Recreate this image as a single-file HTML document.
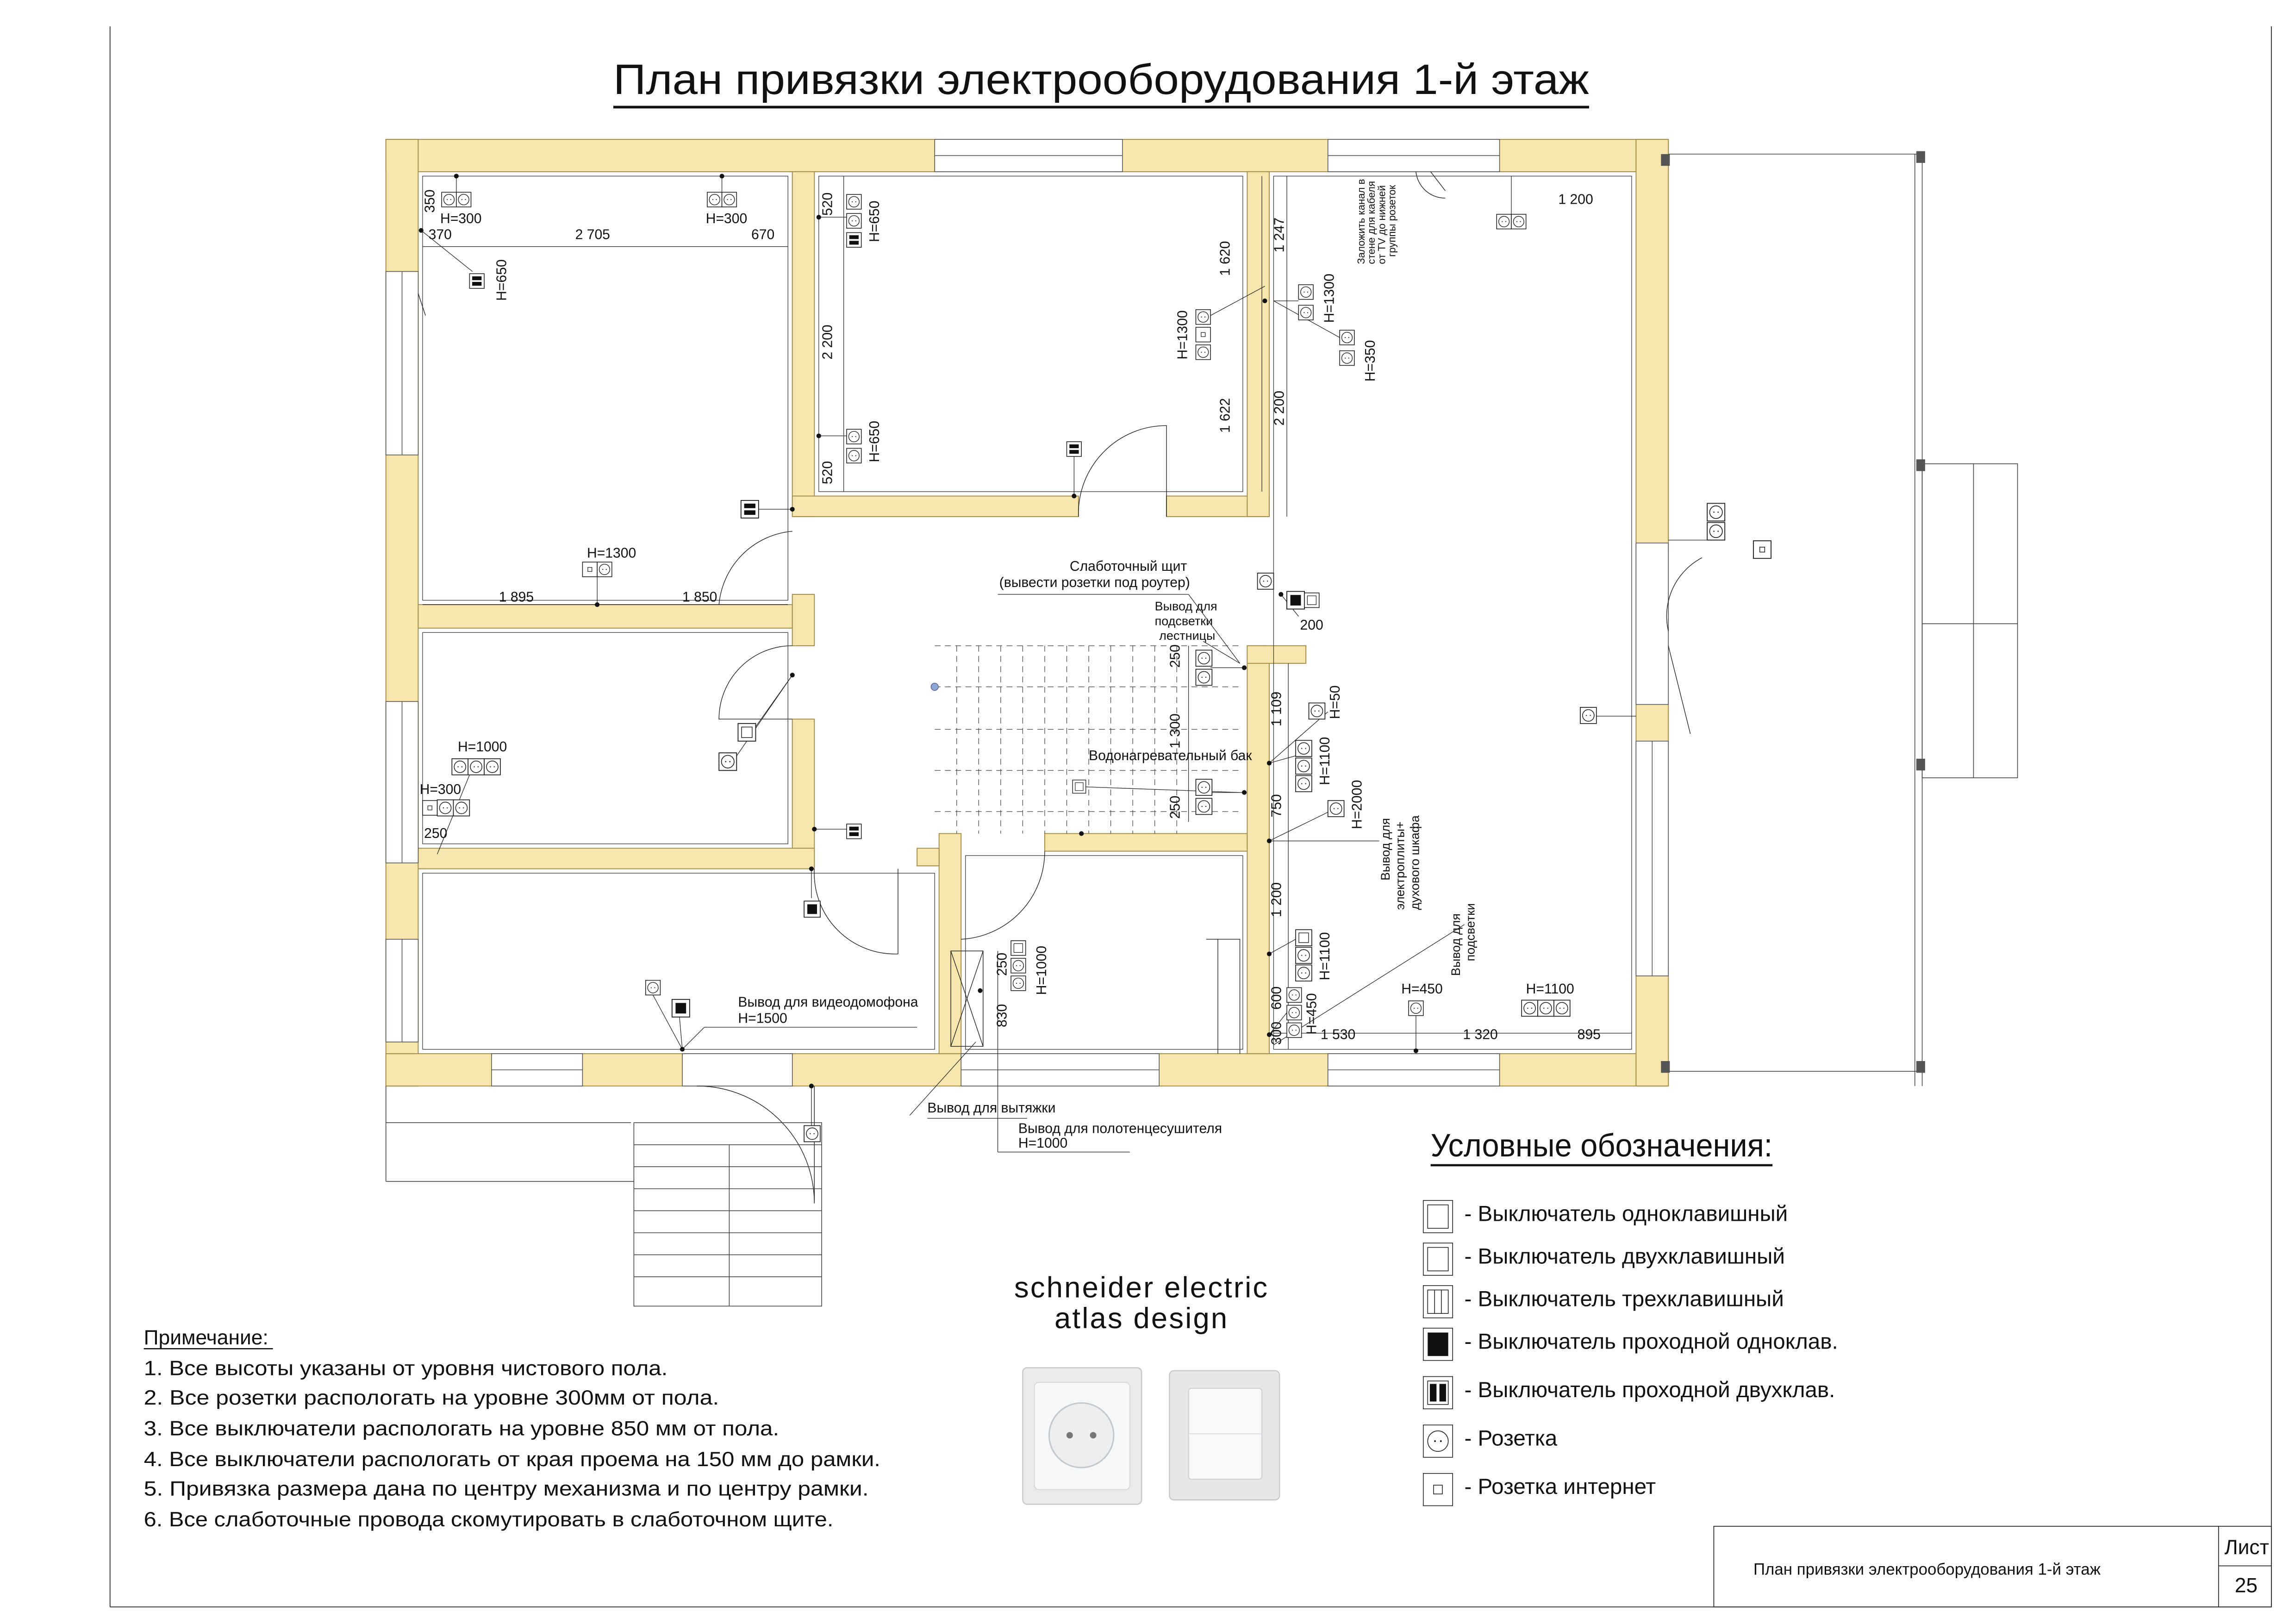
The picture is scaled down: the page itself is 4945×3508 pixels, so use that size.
<!DOCTYPE html>
<html><head><meta charset="utf-8">
<style>
html,body{margin:0;padding:0;background:#fff;}
svg{display:block;}
text{font-family:"Liberation Sans Narrow","Liberation Sans","DejaVu Sans",sans-serif;fill:#111;}
</style></head>
<body>
<svg width="4945" height="3508" viewBox="0 0 1560 1106.6" preserveAspectRatio="none" xmlns="http://www.w3.org/2000/svg">
<defs>
<symbol id="so" viewBox="0 0 10 10" overflow="visible"><rect x="0" y="0" width="10" height="10" fill="#fff" stroke="#222" stroke-width="0.5"/><circle cx="5" cy="5" r="3.6" fill="none" stroke="#222" stroke-width="0.45"/><circle cx="3.8" cy="5" r="0.35" fill="#222"/><circle cx="6.2" cy="5" r="0.35" fill="#222"/></symbol>
<symbol id="s2" viewBox="0 0 10 10" overflow="visible"><rect x="0" y="0" width="10" height="10" fill="#fff" stroke="#222" stroke-width="0.5"/><rect x="1.8" y="1.8" width="6.4" height="2.6" fill="#111"/><rect x="1.8" y="5.6" width="6.4" height="2.6" fill="#111"/></symbol>
<symbol id="s1" viewBox="0 0 10 10" overflow="visible"><rect x="0" y="0" width="10" height="10" fill="#fff" stroke="#222" stroke-width="0.5"/><rect x="2" y="2" width="6" height="6" fill="#111"/></symbol>
<symbol id="sw" viewBox="0 0 10 10" overflow="visible"><rect x="0" y="0" width="10" height="10" fill="#fff" stroke="#222" stroke-width="0.5"/><rect x="2" y="2" width="6" height="6" fill="none" stroke="#222" stroke-width="0.4"/></symbol>
<symbol id="nt" viewBox="0 0 10 10" overflow="visible"><rect x="0" y="0" width="10" height="10" fill="#fff" stroke="#222" stroke-width="0.5"/><rect x="3.6" y="3.6" width="2.8" height="2.8" fill="none" stroke="#222" stroke-width="0.4"/></symbol>
</defs>

<!-- frame -->
<g fill="none" stroke="#333" stroke-width="0.6">
<line x1="75" y1="18" x2="75" y2="1095"/>
<line x1="75" y1="1095" x2="1548" y2="1095"/>
<line x1="1548" y1="18" x2="1548" y2="1095"/>
<rect x="1168" y="1040" width="380" height="55"/>
<line x1="1512" y1="1040" x2="1512" y2="1095"/>
<line x1="1512" y1="1067" x2="1548" y2="1067"/>
</g>
<text x="1195" y="1073" font-size="11">План привязки электрооборудования 1-й этаж</text>
<text x="1516" y="1059" font-size="14">Лист</text>
<text x="1523" y="1085" font-size="14">25</text>

<!-- title -->
<text x="418" y="64" font-size="29" textLength="665" lengthAdjust="spacingAndGlyphs">План привязки электрооборудования 1-й этаж</text>
<line x1="418" y1="73" x2="1083" y2="73" stroke="#111" stroke-width="1.8"/>

<!-- walls -->
<g fill="#f7e7ad" stroke="#a38a48" stroke-width="0.6">
<rect x="263" y="95" width="874" height="22"/>
<rect x="263" y="95" width="22" height="645"/>
<rect x="263" y="718" width="874" height="22"/>
<rect x="1115" y="95" width="22" height="645"/>
<rect x="540" y="117" width="15" height="235"/>
<rect x="540" y="338" width="195" height="14"/>
<rect x="795" y="338" width="70" height="14"/>
<rect x="850" y="117" width="15" height="235"/>
<rect x="285" y="412" width="255" height="16"/>
<rect x="540" y="405" width="15" height="35"/>
<rect x="540" y="490" width="15" height="100"/>
<rect x="285" y="578" width="270" height="14"/>
<rect x="640" y="568" width="15" height="150"/>
<rect x="712" y="568" width="145" height="12"/>
<rect x="850" y="440" width="15" height="278"/>
<rect x="850" y="440" width="40" height="12"/>
<rect x="625" y="578" width="15" height="12"/>
</g>
<g fill="#fff" stroke="#555" stroke-width="0.5">
<rect x="637" y="95" width="128" height="22"/><line x1="637" y1="106" x2="765" y2="106"/>
<rect x="905" y="95" width="117" height="22"/><line x1="905" y1="106" x2="1022" y2="106"/>
<rect x="263" y="185" width="22" height="125"/><line x1="274" y1="185" x2="274" y2="310"/>
<rect x="263" y="478" width="22" height="110"/><line x1="274" y1="478" x2="274" y2="588"/>
<rect x="263" y="640" width="22" height="70"/><line x1="274" y1="640" x2="274" y2="710"/>
<rect x="335" y="718" width="62" height="22"/><line x1="335" y1="729" x2="397" y2="729"/>
<rect x="465" y="718" width="75" height="22"/>
<rect x="655" y="718" width="135" height="22"/><line x1="655" y1="729" x2="790" y2="729"/>
<rect x="905" y="718" width="117" height="22"/><line x1="905" y1="729" x2="1022" y2="729"/>
<rect x="1115" y="370" width="22" height="110"/>
<rect x="1115" y="505" width="22" height="160"/><line x1="1126" y1="505" x2="1126" y2="665"/>
</g>
<g fill="none" stroke="#333" stroke-width="0.4">
<rect x="288" y="120" width="249" height="289"/>
<rect x="558" y="120" width="289" height="215"/>
<rect x="868" y="120" width="244" height="595"/>
<rect x="288" y="431" width="249" height="144"/>
<rect x="288" y="595" width="349" height="120"/>
<rect x="658" y="583" width="189" height="132"/>
</g>
<g fill="none" stroke="#222" stroke-width="0.45">
<path d="M735 352 A60 60 0 0 1 795 290 L795 352"/>
<path d="M540 362 A55 55 0 0 0 490 412"/>
<path d="M540 440 A50 50 0 0 0 490 490 L540 490"/>
<path d="M555 592 A55 55 0 0 0 612 650 L612 592"/>
<path d="M712 580 A60 60 0 0 1 655 640"/>
<path d="M975 117 L985 130"/><path d="M965 117 A20 20 0 0 0 985 135"/>
<path d="M1137 430 A45 45 0 0 1 1160 380"/><path d="M1137 440 L1152 500"/>
<path d="M475 740 A80 80 0 0 1 555 820 L555 740"/>
<path d="M285 200 L290 215"/>
<path d="M822 640 L845 640 L845 718 M830 640 L830 718"/>
<rect x="648" y="648" width="22" height="65"/><path d="M648 648 L670 713 M670 648 L648 713"/>
</g>
<g fill="none" stroke="#444" stroke-width="0.4" stroke-dasharray="4,3">
<line x1="637" y1="440" x2="845" y2="440"/>
<line x1="637" y1="468" x2="845" y2="468"/>
<line x1="637" y1="497" x2="845" y2="497"/>
<line x1="637" y1="525" x2="845" y2="525"/>
<line x1="637" y1="553" x2="845" y2="553"/>
<line x1="652" y1="440" x2="652" y2="568"/><line x1="667" y1="440" x2="667" y2="568"/>
<line x1="682" y1="440" x2="682" y2="568"/><line x1="697" y1="440" x2="697" y2="568"/>
<line x1="712" y1="440" x2="712" y2="568"/><line x1="727" y1="440" x2="727" y2="568"/>
<line x1="742" y1="440" x2="742" y2="568"/><line x1="757" y1="440" x2="757" y2="568"/>
<line x1="772" y1="440" x2="772" y2="568"/><line x1="787" y1="440" x2="787" y2="568"/>
<line x1="802" y1="440" x2="802" y2="568"/>
</g>
<circle cx="637" cy="468" r="2.5" fill="#8aa6d8" stroke="#557" stroke-width="0.4"/>

<g fill="none" stroke="#444" stroke-width="0.5">
<line x1="1137" y1="105" x2="1310" y2="105"/>
<line x1="1137" y1="730" x2="1310" y2="730"/>
<line x1="1310" y1="105" x2="1310" y2="740"/>
<line x1="1305" y1="105" x2="1305" y2="740"/>
<rect x="1310" y="316" width="65" height="214"/>
<line x1="1345" y1="316" x2="1345" y2="530"/>
<line x1="1310" y1="425" x2="1375" y2="425"/>
<line x1="263" y1="765" x2="430" y2="765"/>
<line x1="263" y1="805" x2="432" y2="805"/>
<line x1="263" y1="740" x2="263" y2="805"/>
<rect x="432" y="765" width="128" height="125"/>
<line x1="432" y1="780" x2="560" y2="780"/><line x1="432" y1="795" x2="560" y2="795"/>
<line x1="432" y1="810" x2="560" y2="810"/><line x1="432" y1="825" x2="560" y2="825"/>
<line x1="432" y1="840" x2="560" y2="840"/><line x1="432" y1="855" x2="560" y2="855"/>
<line x1="432" y1="870" x2="560" y2="870"/>
<line x1="497" y1="780" x2="497" y2="890"/>
</g>
<g fill="#555"><rect x="1132" y="105" width="6" height="8"/><rect x="1132" y="723" width="6" height="8"/><rect x="1306" y="103" width="6" height="8"/><rect x="1306" y="723" width="6" height="8"/><rect x="1306" y="313" width="6" height="8"/><rect x="1306" y="517" width="6" height="8"/></g>

<g fill="none" stroke="#222" stroke-width="0.4">
<line x1="288" y1="168" x2="537" y2="168"/>
<line x1="288" y1="412" x2="537" y2="412"/>
<line x1="575" y1="120" x2="575" y2="335"/>
<line x1="860" y1="120" x2="860" y2="335"/>
<line x1="877" y1="120" x2="877" y2="352"/>
<line x1="810" y1="440" x2="810" y2="560"/>
<line x1="878" y1="452" x2="878" y2="715"/>
<line x1="868" y1="704" x2="1112" y2="704"/>
<line x1="680" y1="648" x2="680" y2="718"/>
</g>
<g font-size="9.5">
<text x="292" y="163">370</text><text x="392" y="163">2 705</text><text x="512" y="163">670</text>
<text x="340" y="410">1 895</text><text x="465" y="410">1 850</text>
<text x="1062" y="139">1 200</text>
<text x="900" y="708">1 530</text><text x="997" y="708">1 320</text><text x="1075" y="708">895</text>
<text x="886" y="429">200</text>
<text x="300" y="152">H=300</text><text x="481" y="152">H=300</text>
<text x="400" y="380">H=1300</text>
<text x="312" y="512">H=1000</text><text x="286" y="541">H=300</text><text x="289" y="571">250</text>
<text x="955" y="677">H=450</text><text x="1040" y="677">H=1100</text>
<text x="503" y="686">Вывод для видеодомофона</text><text x="503" y="697">H=1500</text>
<text x="729" y="389">Слаботочный щит</text><text x="681" y="400">(вывести розетки под роутер)</text>
<text x="742" y="518">Водонагревательный бак</text>
<text x="632" y="758">Вывод для вытяжки</text>
<text x="694" y="772">Вывод для полотенцесушителя</text><text x="694" y="782">H=1000</text>
<text x="787" y="416" font-size="8.5">Вывод для</text><text x="787" y="426" font-size="8.5">подсветки</text><text x="790" y="436" font-size="8.5">лестницы</text>
</g>
<g font-size="9.5">
<text transform="translate(296,145) rotate(-90)">350</text>
<text transform="translate(345,205) rotate(-90)">H=650</text>
<text transform="translate(567,147) rotate(-90)">520</text>
<text transform="translate(599,165) rotate(-90)">H=650</text>
<text transform="translate(567,245) rotate(-90)">2 200</text>
<text transform="translate(567,330) rotate(-90)">520</text>
<text transform="translate(599,315) rotate(-90)">H=650</text>
<text transform="translate(838,188) rotate(-90)">1 620</text>
<text transform="translate(838,295) rotate(-90)">1 622</text>
<text transform="translate(875,172) rotate(-90)">1 247</text>
<text transform="translate(875,290) rotate(-90)">2 200</text>
<text transform="translate(809,245) rotate(-90)">H=1300</text>
<text transform="translate(909,220) rotate(-90)">H=1300</text>
<text transform="translate(937,260) rotate(-90)">H=350</text>
<text transform="translate(804,455) rotate(-90)">250</text>
<text transform="translate(804,510) rotate(-90)">1 300</text>
<text transform="translate(804,558) rotate(-90)">250</text>
<text transform="translate(873,495) rotate(-90)">1 109</text>
<text transform="translate(873,557) rotate(-90)">750</text>
<text transform="translate(873,625) rotate(-90)">1 200</text>
<text transform="translate(873,688) rotate(-90)">600</text>
<text transform="translate(873,712) rotate(-90)">300</text>
<text transform="translate(913,490) rotate(-90)">H=50</text>
<text transform="translate(906,535) rotate(-90)">H=1100</text>
<text transform="translate(928,565) rotate(-90)">H=2000</text>
<text transform="translate(906,668) rotate(-90)">H=1100</text>
<text transform="translate(897,705) rotate(-90)">H=450</text>
<text transform="translate(686,665) rotate(-90)">250</text>
<text transform="translate(686,700) rotate(-90)">830</text>
<text transform="translate(713,678) rotate(-90)">H=1000</text>
<text transform="translate(947,600) rotate(-90)" font-size="8.5">Вывод для</text>
<text transform="translate(957,620) rotate(-90)" font-size="8.5">электроплиты+</text>
<text transform="translate(967,620) rotate(-90)" font-size="8.5">духового шкафа</text>
<text transform="translate(995,665) rotate(-90)" font-size="8.5">Вывод для</text>
<text transform="translate(1005,655) rotate(-90)" font-size="8.5">подсветки</text>
<text transform="translate(930,180) rotate(-90)" font-size="7">Заложить канал в</text>
<text transform="translate(937,180) rotate(-90)" font-size="7">стене для кабеля</text>
<text transform="translate(944,180) rotate(-90)" font-size="7">от TV до нижней</text>
<text transform="translate(951,175) rotate(-90)" font-size="7">группы розеток</text>
</g>

<g stroke="#222" stroke-width="0.4" fill="none">
<line x1="287" y1="157" x2="322" y2="185"/>
<line x1="311" y1="120" x2="311" y2="131"/><line x1="492" y1="120" x2="492" y2="131"/>
<line x1="558" y1="148" x2="577" y2="148"/><line x1="558" y1="297" x2="577" y2="297"/>
<line x1="515" y1="347" x2="540" y2="347"/><line x1="732" y1="310" x2="732" y2="338"/>
<line x1="825" y1="215" x2="862" y2="195"/>
<line x1="868" y1="205" x2="885" y2="205"/><line x1="868" y1="205" x2="913" y2="230"/>
<line x1="407" y1="393" x2="407" y2="412"/>
<line x1="513" y1="498" x2="540" y2="460"/><line x1="500" y1="518" x2="540" y2="460"/>
<line x1="298" y1="582" x2="320" y2="528"/>
<line x1="587" y1="565" x2="555" y2="565"/>
<line x1="553" y1="592" x2="553" y2="612"/>
<line x1="445" y1="678" x2="465" y2="715"/><line x1="463" y1="692" x2="465" y2="715"/>
<line x1="465" y1="715" x2="480" y2="700"/><line x1="480" y1="700" x2="625" y2="700"/>
<line x1="825" y1="455" x2="848" y2="455"/><line x1="825" y1="540" x2="848" y2="540"/>
<line x1="865" y1="520" x2="883" y2="515"/><line x1="865" y1="520" x2="905" y2="485"/>
<line x1="865" y1="573" x2="910" y2="551"/><line x1="865" y1="573" x2="940" y2="573"/>
<line x1="865" y1="650" x2="883" y2="640"/><line x1="865" y1="705" x2="877" y2="690"/>
<line x1="868" y1="712" x2="998" y2="630"/>
<line x1="965" y1="690" x2="965" y2="716"/>
<line x1="680" y1="405" x2="810" y2="405"/><line x1="810" y1="405" x2="845" y2="452"/>
<line x1="820" y1="437" x2="845" y2="452"/>
<line x1="873" y1="405" x2="885" y2="420"/>
<line x1="735" y1="536" x2="845" y2="540"/>
<line x1="620" y1="760" x2="665" y2="710"/><line x1="632" y1="762" x2="700" y2="762"/>
<line x1="680" y1="718" x2="680" y2="785"/><line x1="680" y1="785" x2="770" y2="785"/>
<line x1="1030" y1="150" x2="1030" y2="120"/>
<line x1="1170" y1="368" x2="1137" y2="368"/>
<line x1="1087" y1="488" x2="1115" y2="488"/>
<line x1="553" y1="740" x2="553" y2="768"/>
</g>
<g fill="#111">
<circle cx="311" cy="120" r="1.6"/><circle cx="492" cy="120" r="1.6"/><circle cx="287" cy="157" r="1.6"/>
<circle cx="558" cy="148" r="1.6"/><circle cx="558" cy="297" r="1.6"/><circle cx="540" cy="347" r="1.6"/>
<circle cx="732" cy="338" r="1.6"/><circle cx="862" cy="205" r="1.6"/><circle cx="407" cy="412" r="1.6"/>
<circle cx="540" cy="460" r="1.6"/><circle cx="555" cy="565" r="1.6"/><circle cx="553" cy="592" r="1.6"/>
<circle cx="465" cy="715" r="1.6"/><circle cx="848" cy="455" r="1.6"/><circle cx="848" cy="540" r="1.6"/>
<circle cx="865" cy="520" r="1.6"/><circle cx="865" cy="573" r="1.6"/><circle cx="865" cy="650" r="1.6"/>
<circle cx="865" cy="705" r="1.6"/><circle cx="965" cy="716" r="1.6"/><circle cx="873" cy="405" r="1.6"/>
<circle cx="737" cy="568" r="1.6"/><circle cx="668" cy="675" r="1.6"/><circle cx="553" cy="740" r="1.6"/>
</g>

<g>
<use href="#so" x="301" y="131" width="10" height="10"/><use href="#so" x="311" y="131" width="10" height="10"/>
<use href="#so" x="482" y="131" width="10" height="10"/><use href="#so" x="492" y="131" width="10" height="10"/>
<use href="#s2" x="320" y="185" width="10" height="13"/>
<use href="#so" x="577" y="131" width="10" height="13"/><use href="#so" x="577" y="144" width="10" height="13"/><use href="#s2" x="577" y="157" width="10" height="13"/>
<use href="#so" x="577" y="291" width="10" height="13"/><use href="#so" x="577" y="304" width="10" height="13"/>
<use href="#s2" x="727" y="300" width="10" height="12"/>
<use href="#s2" x="505" y="341" width="12" height="12"/>
<use href="#so" x="815" y="210" width="10" height="12"/><use href="#nt" x="815" y="222" width="10" height="12"/><use href="#so" x="815" y="234" width="10" height="12"/>
<use href="#so" x="885" y="193" width="10" height="12"/><use href="#so" x="885" y="207" width="10" height="12"/>
<use href="#so" x="913" y="224" width="10" height="12"/><use href="#so" x="913" y="238" width="10" height="12"/>
<use href="#so" x="1020" y="145" width="10" height="12"/><use href="#so" x="1030" y="145" width="10" height="12"/>
<use href="#so" x="1163" y="343" width="13" height="12"/><use href="#so" x="1163" y="356" width="13" height="12"/>
<use href="#nt" x="1195" y="368" width="12" height="13"/>
<use href="#nt" x="397" y="383" width="10" height="10"/><use href="#so" x="407" y="383" width="10" height="10"/>
<use href="#sw" x="503" y="493" width="12" height="12"/><use href="#so" x="490" y="513" width="12" height="12"/>
<use href="#so" x="308" y="517" width="11" height="11"/><use href="#so" x="319" y="517" width="11" height="11"/><use href="#so" x="330" y="517" width="11" height="11"/>
<use href="#nt" x="288" y="545" width="10" height="11"/><use href="#so" x="298" y="545" width="11" height="11"/><use href="#so" x="309" y="545" width="11" height="11"/>
<use href="#s2" x="577" y="560" width="10" height="13"/>
<use href="#s1" x="548" y="613" width="11" height="13"/>
<use href="#so" x="440" y="667" width="10" height="12"/>
<use href="#s1" x="458" y="681" width="12" height="12"/>
<use href="#so" x="815" y="442" width="11" height="13"/><use href="#so" x="815" y="455" width="11" height="13"/>
<use href="#so" x="815" y="530" width="11" height="13"/><use href="#so" x="815" y="543" width="11" height="13"/>
<use href="#so" x="883" y="504" width="11" height="12"/><use href="#so" x="883" y="516" width="11" height="12"/><use href="#so" x="883" y="528" width="11" height="12"/>
<use href="#so" x="892" y="478" width="11" height="13"/>
<use href="#so" x="905" y="545" width="11" height="12"/>
<use href="#so" x="857" y="390" width="11" height="12"/>
<use href="#s1" x="877" y="403" width="12" height="12"/><use href="#sw" x="889" y="403" width="10" height="12"/>
<use href="#sw" x="689" y="640" width="10" height="12"/><use href="#so" x="689" y="652" width="10" height="12"/><use href="#so" x="689" y="664" width="10" height="12"/>
<use href="#sw" x="883" y="633" width="11" height="12"/><use href="#so" x="883" y="645" width="11" height="12"/><use href="#so" x="883" y="657" width="11" height="12"/>
<use href="#so" x="877" y="672" width="10" height="12"/><use href="#so" x="877" y="684" width="10" height="12"/><use href="#so" x="877" y="696" width="10" height="12"/>
<use href="#so" x="960" y="681" width="10" height="12"/>
<use href="#so" x="1037" y="681" width="11" height="12"/><use href="#so" x="1048" y="681" width="11" height="12"/><use href="#so" x="1059" y="681" width="11" height="12"/>
<use href="#so" x="1077" y="481" width="11" height="13"/>
<use href="#so" x="548" y="766" width="11" height="13"/>
<use href="#sw" x="731" y="530" width="9" height="12"/>
</g>

<g font-size="14">
<text x="98" y="916">Примечание:</text>
<text x="98" y="937" textLength="357" lengthAdjust="spacingAndGlyphs">1. Все высоты указаны от уровня чистового пола.</text>
<text x="98" y="957" textLength="392" lengthAdjust="spacingAndGlyphs">2. Все розетки распологать на уровне 300мм от пола.</text>
<text x="98" y="978" textLength="433" lengthAdjust="spacingAndGlyphs">3. Все выключатели распологать на уровне 850 мм от пола.</text>
<text x="98" y="999" textLength="502" lengthAdjust="spacingAndGlyphs">4. Все выключатели распологать от края проема на 150 мм до рамки.</text>
<text x="98" y="1019" textLength="494" lengthAdjust="spacingAndGlyphs">5. Привязка размера дана по центру механизма и по центру рамки.</text>
<text x="98" y="1040" textLength="470" lengthAdjust="spacingAndGlyphs">6. Все слаботочные провода скомутировать в слаботочном щите.</text>
</g>
<line x1="98" y1="919" x2="186" y2="919" stroke="#111" stroke-width="0.8"/>

<text x="778" y="884" font-size="20" text-anchor="middle" letter-spacing="1">schneider electric</text>
<text x="778" y="905" font-size="20" text-anchor="middle" letter-spacing="1">atlas design</text>
<g>
<rect x="697" y="932" width="81" height="93" rx="3" fill="#e9eaec" stroke="#c7c9cc" stroke-width="0.8"/>
<rect x="705" y="942" width="65" height="73" rx="3" fill="#f6f7f8" stroke="#d5d7da" stroke-width="0.6"/>
<circle cx="737" cy="978" r="22" fill="#eceef0" stroke="#c5c8cb" stroke-width="1"/>
<circle cx="729" cy="978" r="2.2" fill="#777"/><circle cx="745" cy="978" r="2.2" fill="#777"/>
<rect x="797" y="934" width="75" height="88" rx="3" fill="#e6e7e9" stroke="#c7c9cc" stroke-width="0.8"/>
<rect x="810" y="946" width="50" height="62" rx="2" fill="#f7f8f9" stroke="#cfd1d4" stroke-width="0.7"/>
<line x1="810" y1="977" x2="860" y2="977" stroke="#d8dadd" stroke-width="0.6"/>
</g>

<text x="975" y="788" font-size="22" textLength="233" lengthAdjust="spacingAndGlyphs">Условные обозначения:</text>
<line x1="975" y1="794" x2="1208" y2="794" stroke="#111" stroke-width="1.5"/>
<g font-size="15">
<text x="998" y="832">- Выключатель одноклавишный</text>
<text x="998" y="861">- Выключатель двухклавишный</text>
<text x="998" y="890">- Выключатель трехклавишный</text>
<text x="998" y="919">- Выключатель проходной одноклав.</text>
<text x="998" y="952">- Выключатель проходной двухклав.</text>
<text x="998" y="985">- Розетка</text>
<text x="998" y="1018">- Розетка интернет</text>
</g>
<g fill="#fff" stroke="#222" stroke-width="0.5">
<rect x="970" y="818" width="20" height="22"/><rect x="973" y="821" width="14" height="16"/>
<rect x="970" y="847" width="20" height="22"/><rect x="973" y="850" width="14" height="16"/>
<rect x="970" y="876" width="20" height="22"/><rect x="973" y="879" width="14" height="16"/><line x1="977.7" y1="879" x2="977.7" y2="895"/><line x1="982.3" y1="879" x2="982.3" y2="895"/>
<rect x="970" y="905" width="20" height="22"/>
<rect x="970" y="938" width="20" height="22"/>
<rect x="970" y="971" width="20" height="22"/><circle cx="980" cy="982" r="7"/>
<rect x="970" y="1004" width="20" height="22"/><rect x="977" y="1012" width="6" height="6"/>
</g>
<rect x="973" y="908" width="14" height="16" fill="#111"/>
<rect x="973" y="941" width="14" height="16" fill="none" stroke="#222" stroke-width="0.5"/>
<rect x="974.5" y="943" width="4.5" height="12" fill="#111"/><rect x="981" y="943" width="4.5" height="12" fill="#111"/>
<circle cx="978" cy="982" r="0.6" fill="#111"/><circle cx="982" cy="982" r="0.6" fill="#111"/>
</svg>
</body></html>
